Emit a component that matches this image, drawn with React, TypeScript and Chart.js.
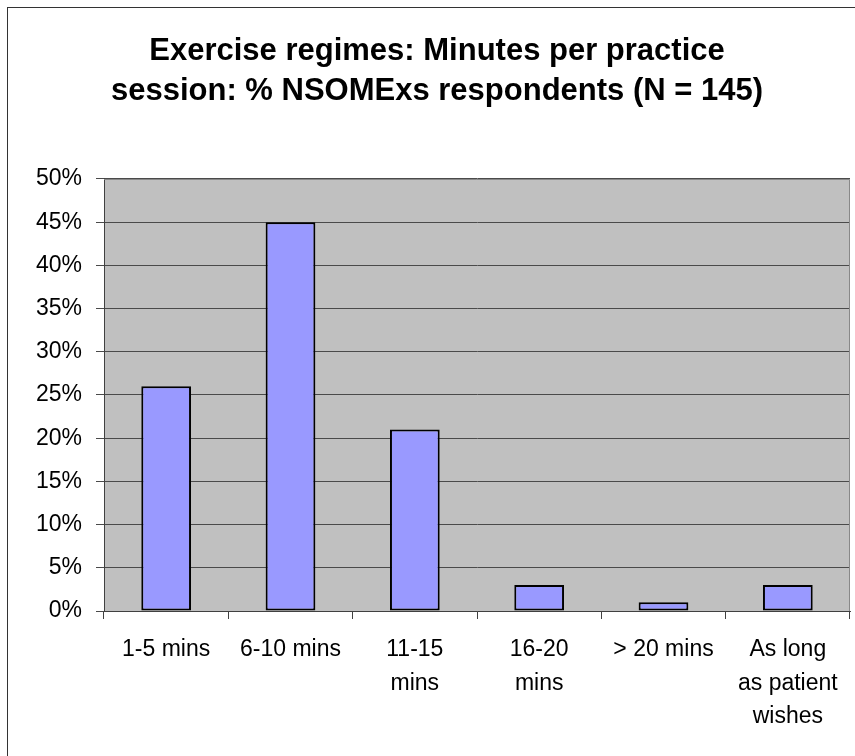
import React, { useEffect, useRef } from "react";
import { Chart, registerables } from "chart.js";

Chart.register(...registerables);

const titleLines = [
  "Exercise regimes: Minutes per practice",
  "session: % NSOMExs respondents (N = 145)",
];
const categories = [
  ["1-5 mins"],
  ["6-10 mins"],
  ["11-15", "mins"],
  ["16-20", "mins"],
  ["> 20 mins"],
  ["As long", "as patient", "wishes"],
];
const percentValues = [26, 45, 21, 3, 1, 3];
const yMin = 0;
const yMax = 50;
const yStep = 5;

const FONT = "'Liberation Sans', Arial, Helvetica, sans-serif";

const plotBackground = {
  id: "plotBackground",
  beforeDraw(chart: any) {
    const { ctx, chartArea } = chart;
    if (!chartArea) return;
    ctx.save();
    ctx.fillStyle = "#C0C0C0";
    ctx.fillRect(chartArea.left, chartArea.top, chartArea.width, chartArea.height);
    ctx.restore();
  },
  afterDraw(chart: any) {
    const { ctx, chartArea } = chart;
    if (!chartArea) return;
    ctx.save();
    ctx.strokeStyle = "#888888";
    ctx.lineWidth = 1;
    ctx.beginPath();
    ctx.moveTo(chartArea.left, chartArea.top + 0.5);
    ctx.lineTo(chartArea.right - 0.5, chartArea.top + 0.5);
    ctx.lineTo(chartArea.right - 0.5, chartArea.bottom);
    ctx.stroke();
    ctx.restore();
  },
};

export default function App() {
  const canvasRef = useRef<HTMLCanvasElement | null>(null);

  useEffect(() => {
    if (!canvasRef.current) return;
    const chart = new Chart(canvasRef.current, {
      type: "bar",
      data: {
        labels: categories,
        datasets: [
          {
            data: percentValues,
            backgroundColor: "#9999FF",
            borderColor: "#000000",
            borderWidth: 2,
            borderSkipped: false,
            barPercentage: 0.4,
            categoryPercentage: 1,
          },
        ],
      },
      options: {
        animation: false,
        responsive: false,
        devicePixelRatio: 1,
        layout: { padding: { left: 24, right: 5, top: 0, bottom: 0 } },
        plugins: {
          legend: { display: false },
          tooltip: { enabled: false },
          title: {
            display: true,
            text: titleLines,
            color: "#000000",
            font: { family: FONT, size: 31, weight: "bold", lineHeight: 1.274 },
            padding: { top: 32, bottom: 68 },
          },
        },
        scales: {
          x: {
            offset: true,
            grid: {
              display: true,
              offset: true,
              drawOnChartArea: false,
              drawTicks: true,
              tickLength: 8,
              color: "#404040",
              lineWidth: 1,
            },
            border: { display: true, color: "#404040", width: 1 },
            ticks: {
              color: "#000000",
              font: { family: FONT, size: 23, lineHeight: 1.457 },
              padding: 14,
              maxRotation: 0,
              minRotation: 0,
              autoSkip: false,
            },
            afterFit(scale: any) {
              scale.height = 145;
            },
          },
          y: {
            min: yMin,
            max: yMax,
            grid: {
              color: "#4a4a4a",
              lineWidth: 1,
              drawTicks: true,
              tickLength: 8,
            },
            border: { display: true, color: "#404040", width: 1 },
            ticks: {
              stepSize: yStep,
              color: "#000000",
              font: { family: FONT, size: 23 },
              padding: 14,
              callback: (v: any) => v + "%",
            },
            afterFit(scale: any) {
              scale.width = 80;
            },
          },
        },
      },
      plugins: [plotBackground],
    });
    return () => chart.destroy();
  }, []);

  return (
    <div
      style={{
        position: "absolute",
        left: 0,
        top: 0,
        width: 855,
        height: 756,
        overflow: "hidden",
        background: "#ffffff",
      }}
    >
      <div
        style={{
          position: "absolute",
          left: 7,
          top: 7,
          width: 1000,
          height: 1000,
          borderTop: "1px solid #333333",
          borderLeft: "1px solid #333333",
        }}
      />
      <canvas
        ref={canvasRef}
        width={855}
        height={756}
        style={{ position: "absolute", left: 0, top: 0, width: 855, height: 756 }}
      />
    </div>
  );
}
